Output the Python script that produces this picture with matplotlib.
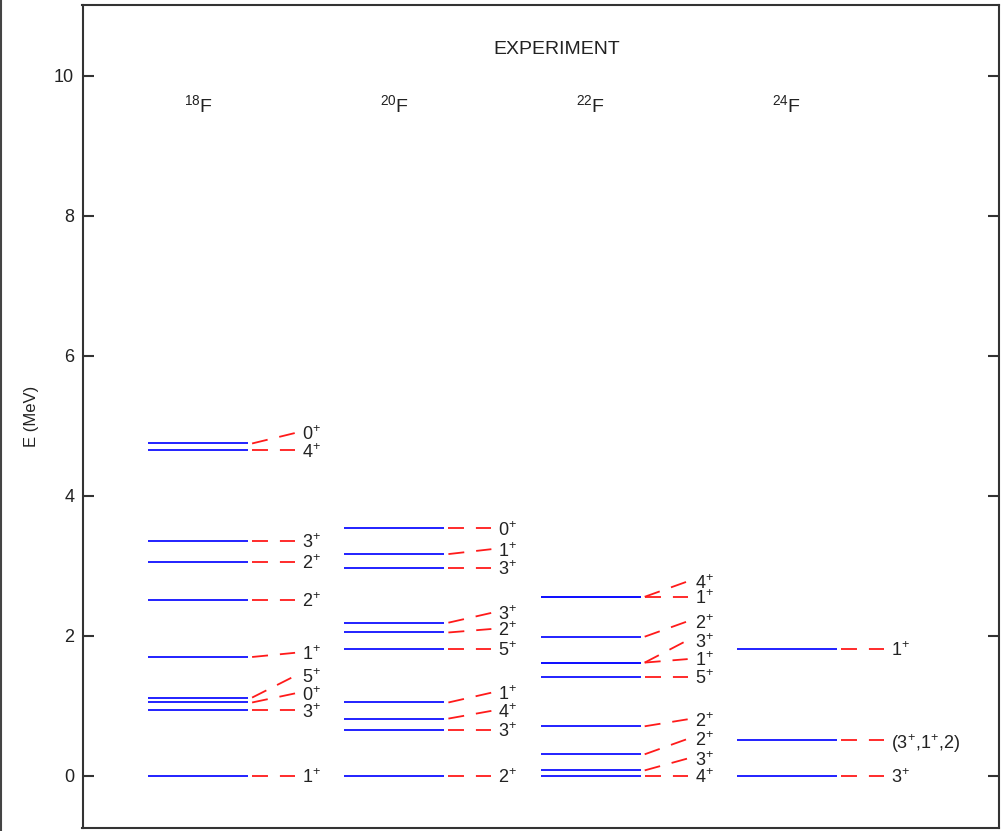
import matplotlib
matplotlib.use('Agg')
import matplotlib.pyplot as plt
from matplotlib import font_manager
from matplotlib.lines import Line2D

# level energies (MeV), label positions and spin labels for each isotope
isotopes = ['18', '20', '22', '24']

f18_E = [0.00, 0.94, 1.05, 1.12, 1.70, 2.52, 3.06, 3.36, 4.65, 4.75]
f18_lab = [0.00, 0.94, 1.18, 1.43, 1.76, 2.52, 3.06, 3.36, 4.65, 4.90]
f18_spin = ['1+', '3+', '0+', '5+', '1+', '2+', '2+', '3+', '4+', '0+']

f20_E = [0.00, 0.66, 0.82, 1.05, 1.82, 2.05, 2.19, 2.97, 3.17, 3.54]
f20_lab = [0.00, 0.66, 0.93, 1.19, 1.82, 2.10, 2.33, 2.97, 3.24, 3.54]
f20_spin = ['2+', '3+', '4+', '1+', '5+', '2+', '3+', '3+', '1+', '0+']

f22_E = [0.00, 0.08, 0.31, 0.71, 1.42, 1.62, 1.62, 1.99, 2.56, 2.56]
f22_lab = [0.00, 0.25, 0.53, 0.81, 1.42, 1.67, 1.94, 2.21, 2.56, 2.78]
f22_spin = ['4+', '3+', '2+', '2+', '5+', '1+', '3+', '2+', '1+', '4+']

f24_E = [0.00, 0.51, 1.82]
f24_lab = [0.00, 0.51, 1.82]
f24_spin = ['3+', '(3+,1+,2)', '1+']

all_E = [f18_E, f20_E, f22_E, f24_E]
all_lab = [f18_lab, f20_lab, f22_lab, f24_lab]
all_spin = [f18_spin, f20_spin, f22_spin, f24_spin]

avail = {f.name for f in font_manager.fontManager.ttflist}
narrow = 'Liberation Sans Narrow' if 'Liberation Sans Narrow' in avail else 'Liberation Sans'

plt.rcParams['font.family'] = ['Liberation Sans', 'DejaVu Sans']
plt.rcParams['mathtext.fontset'] = 'custom'
plt.rcParams['mathtext.rm'] = narrow
plt.rcParams['mathtext.it'] = narrow
plt.rcParams['lines.scale_dashes'] = False

fig = plt.figure(figsize=(10.01, 8.31), dpi=100)
ax = fig.add_axes([82.5 / 1001, 3 / 831, (999 - 82.5) / 1001, (828 - 5) / 831])

blue_w = 0.509
dash_x0, dash_x1 = 0.53, 0.749
lab_x = 0.785

for i in range(len(isotopes)):
    for E, L, s in zip(all_E[i], all_lab[i], all_spin[i]):
        ax.plot([i, i + blue_w], [E, E], color='#1010ff', lw=1.3, solid_capstyle='butt')
        ax.plot([i + dash_x0, i + dash_x1], [E, L], color='#ff1a1a', lw=1.3,
                dashes=(11.5, 8.6), dash_capstyle='butt')
        txt = s.replace('+', r'$^{+}$')
        ax.text(i + lab_x, L, txt, fontsize=13, family=narrow, va='center_baseline',
                ha='left', color='#222222')
    ax.text(i + blue_w / 2, 9.61, r'$^{' + isotopes[i] + '}$F', fontsize=14,
            family=narrow, ha='center', va='center_baseline', color='#222222')

ax.text(2.08, 10.41, 'EXPERIMENT', fontsize=14, family=narrow, ha='center',
        va='center_baseline', color='#222222')

ax.set_xlim(-0.334, 4.335)
ax.set_ylim(-0.743, 11.014)
ax.set_xticks([])
ax.set_yticks([0, 2, 4, 6, 8, 10])
ax.tick_params(axis='y', direction='in', length=8, width=1.5, left=True, right=True,
               labelsize=13, pad=6, color='#333333', labelcolor='#222222')
ax.set_ylabel('E (MeV)', fontsize=12, labelpad=11, color='#222222')
for sp in ax.spines.values():
    sp.set_linewidth(1.5)
    sp.set_color('#333333')

fig.add_artist(Line2D([0.0012, 0.0012], [0, 1], transform=fig.transFigure,
                      color='#444444', lw=1.5))

fig.savefig('out.png', dpi=100)
